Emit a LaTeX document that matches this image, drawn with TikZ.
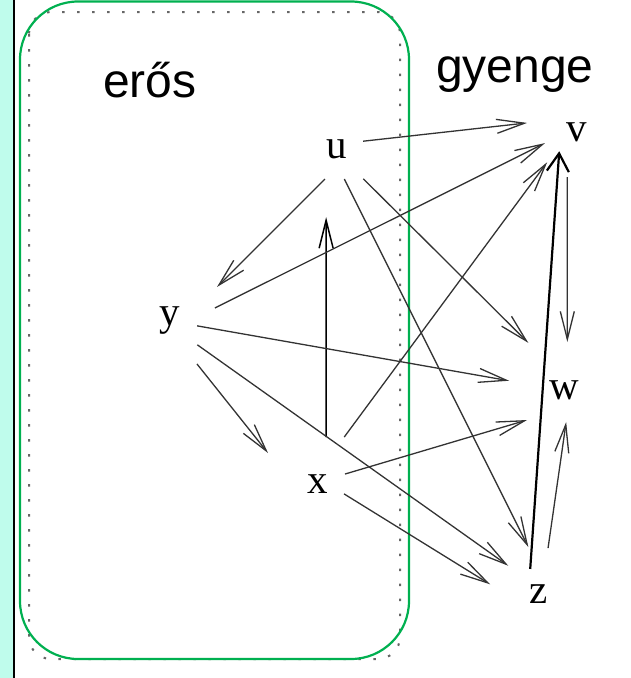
\documentclass[tikz,border=0pt]{standalone}
\usepackage{fontspec}
\setmainfont{Liberation Serif}
\newfontfamily\labelfont{Liberation Sans}
\usetikzlibrary{arrows.meta}
\definecolor{stripcyan}{RGB}{191,252,236}
\definecolor{boxgreen}{RGB}{0,176,80}
\begin{document}
\begin{tikzpicture}[x=1pt,y=-1pt,
    vertex/.style={circle,minimum size=48pt,inner sep=0pt,outer sep=0pt,text height=18pt,text depth=0pt,font=\fontsize{41}{41}\selectfont},
    edge/.style={draw=black!80,line width=1.3pt,-{Straight Barb[length=28pt,width=14pt]}},
    setlabel/.style={anchor=base west,inner sep=0pt,font=\labelfont\fontsize{48}{48}\selectfont}]
  \useasboundingbox (0,0) rectangle (630,678);
  \fill [stripcyan] (0,0) rectangle (13,678);
  \draw [line width=1.6pt] (14,0) -- (14,678);
  \draw [black!60,line width=2pt,dash pattern=on 2.5pt off 12.5pt,rounded corners=22pt] (29,12) rectangle (400,659);
  \draw [boxgreen,line width=2.2pt,rounded corners=58pt] (20,1.5) rectangle (409,659);
  \node [setlabel] (eros) at (103,97) {erős};
  \node [setlabel] (gyenge) at (436,82) {gyenge};
  \node [vertex] (u) at (337,149) {u};
  \node [vertex] (v) at (577,132) {v};
  \node [vertex] (w) at (564,390) {w};
  \node [vertex] (x) at (318,484) {x};
  \node [vertex] (y) at (170,316) {y};
  \node [vertex] (z) at (539,594) {z};
  \draw [edge,shorten <=3.3pt,shorten >=29.5pt] (u.18.6) -- (v.149.4);
  \draw [edge,shorten <=9.4pt,shorten >=33.4pt] (u.-103) -- (y.13);
  \draw [edge,shorten <=7.1pt,shorten >=25.7pt] (u.-80.8) -- (z.88.8);
  \draw [edge,shorten <=15.8pt,shorten >=36pt] (u.-51.9) -- (w.115.8);
  \draw [edge,draw=black,line width=1.5pt,shorten <=24.4pt,shorten >=46.7pt] (x.70.5) -- (u.-117.3);
  \draw [edge,shorten <=30.3pt,shorten >=18.8pt] (x.70.5) -- (v.-141.7);
  \draw [edge,shorten <=4.8pt,shorten >=28.4pt] (x.21.1) -- (w.-114);
  \draw [edge,shorten <=3.9pt,shorten >=30.2pt] (x.-19.3) -- (z.-165.9);
  \draw [edge,shorten <=23.6pt,shorten >=10pt] (y.-6.1) -- (v.-164.2);
  \draw [edge,shorten <=4.9pt,shorten >=31.7pt] (y.-22.4) -- (w.171.6);
  \draw [edge,shorten <=16.2pt,shorten >=18pt] (y.-54.9) -- (z.132.9);
  \draw [edge,shorten <=32pt,shorten >=41.8pt] (y.-73) -- (x.-176);
  \draw [black,line width=2.2pt,-{Straight Barb[length=18pt,width=22pt]},shorten <=2.8pt,shorten >=2.9pt] (z.112.5) -- (v.-137.9);
  \draw [edge,shorten <=23.2pt,shorten >=24.2pt] (v.-114.6) -- (w.82.8);
  \draw [edge,shorten <=22.9pt,shorten >=8.3pt] (z.76.1) -- (w.-82.4);
\end{tikzpicture}
\end{document}
